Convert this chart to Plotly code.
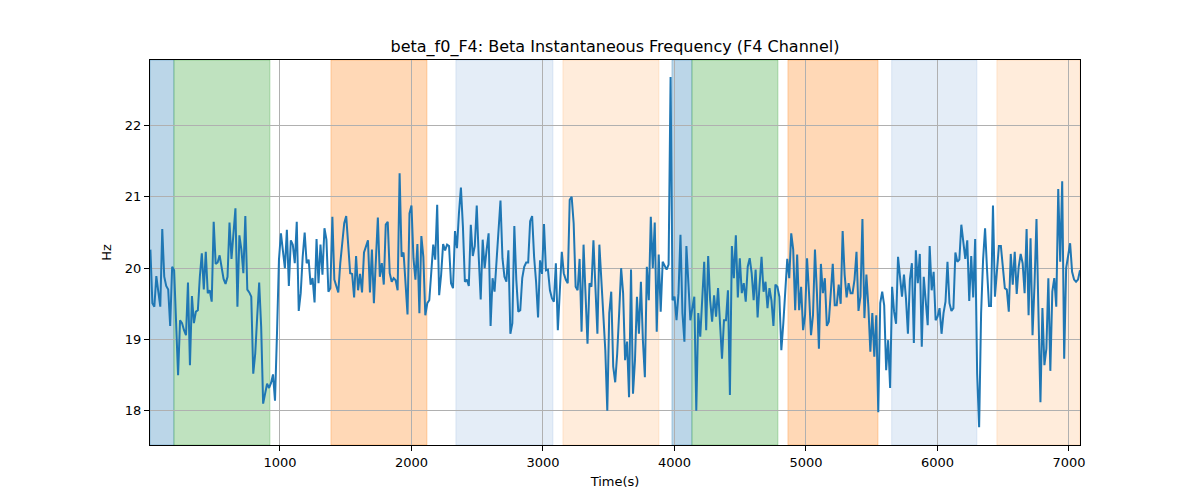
import numpy as np
import plotly.graph_objects as go

# Beta instantaneous frequency (Hz), F4 channel
freq_part1 = [20.26, 19.51, 19.46, 19.89, 19.67, 19.46, 20.55, 19.88, 19.75, 19.70,
              19.19, 20.02, 19.97, 19.27, 18.50, 19.27, 19.23, 19.13, 19.06, 19.80,
              18.64, 19.61, 19.23, 19.39, 19.41, 19.88, 20.21, 19.70, 20.23, 19.65,
              19.69, 19.53, 20.65, 20.06, 20.08, 20.18, 19.98, 19.85, 19.78, 19.88,
              20.64, 20.13, 20.49, 20.84, 19.46, 20.46, 20.26, 19.93, 20.73, 19.70,
              19.66, 19.60, 18.52, 18.80, 19.32, 19.80, 19.18, 18.10, 18.24, 18.38,
              18.32, 18.39, 18.51, 18.14, 19.08, 20.12, 20.49, 20.23, 20.00]
freq_part2 = [20.54, 19.75, 20.39, 20.33, 20.07, 20.65, 19.40, 19.65, 20.16, 20.50,
              20.07, 20.12, 19.77, 19.86, 19.52, 20.41, 19.79, 20.33, 19.91, 20.56,
              20.40, 19.67, 19.72, 20.72, 19.84, 19.74, 19.66, 20.07, 20.35, 20.63,
              20.73, 20.31, 19.93, 19.92, 19.59, 20.17, 19.69, 19.92, 19.66, 20.22,
              20.31, 20.39, 19.66, 20.26, 19.51, 20.19, 20.71, 19.88, 20.07, 19.77,
              20.61, 20.65, 19.93, 19.81, 19.86, 19.83, 19.69, 21.33, 20.16, 20.22,
              19.84, 19.35, 20.77, 20.88, 20.14, 19.84, 20.34]
freq_part3 = [19.37, 20.45, 20.16, 19.34, 19.51, 19.55, 19.93, 20.33, 20.12, 20.89,
              19.62, 19.91, 20.34, 20.25, 20.33, 20.31, 19.79, 19.72, 20.52, 20.28,
              20.77, 21.13, 20.59, 19.81, 19.84, 19.75, 20.61, 20.17, 20.31, 20.88,
              20.16, 19.56, 20.40, 20.00, 20.26, 20.49, 19.19, 19.86, 19.67, 20.12,
              20.59, 20.95, 20.14, 19.88, 19.81, 20.25, 19.08, 19.23, 20.59, 19.84,
              19.39, 19.41, 19.86, 20.02, 20.08, 20.08, 20.66, 20.73, 20.16, 19.81,
              19.31, 20.11, 19.92, 20.62, 19.97, 19.98, 19.69]
freq_part4 = [19.58, 19.53, 20.07, 19.13, 19.69, 20.23, 19.93, 19.84, 19.79, 20.96,
              21.00, 20.63, 19.74, 19.69, 20.13, 19.11, 20.33, 19.69, 18.94, 19.79,
              19.74, 20.39, 19.69, 19.08, 20.33, 19.88, 19.27, 18.85, 18.00, 19.37,
              19.67, 18.62, 18.40, 18.80, 19.37, 20.00, 19.65, 18.71, 18.97, 18.19,
              19.98, 18.24, 18.71, 19.60, 19.08, 19.81, 18.99, 18.47, 20.02, 19.55,
              20.72, 20.00, 20.64, 19.11, 20.19, 19.39, 20.09, 20.03, 19.98, 20.05,
              22.68, 19.55, 19.60, 19.27, 19.65, 20.47]
freq_part5 = [19.37, 18.97, 20.31, 19.79, 19.27, 19.44, 19.60, 18.00, 19.37, 19.04,
              19.65, 20.09, 19.13, 20.17, 19.55, 19.25, 19.62, 19.32, 19.72, 19.13,
              18.73, 19.27, 19.27, 19.69, 18.22, 20.31, 19.86, 20.46, 19.59, 20.14,
              19.65, 19.79, 19.53, 20.02, 20.14, 19.93, 19.55, 19.98, 19.31, 19.77,
              20.16, 19.67, 19.81, 19.44, 19.72, 19.55, 19.19, 19.77, 19.74, 19.60,
              18.85, 19.23, 19.65, 20.13, 19.86, 20.49, 20.26, 19.41, 20.19, 19.41,
              19.74, 19.13, 19.34, 20.14, 19.65, 19.06]
freq_part6 = [19.34, 20.26, 19.65, 18.87, 20.06, 19.65, 19.86, 19.19, 19.25, 19.65,
              20.06, 19.48, 19.48, 19.77, 19.50, 20.52, 19.91, 19.59, 19.79, 19.65,
              19.65, 19.84, 20.23, 19.40, 19.60, 20.69, 19.30, 19.91, 19.46, 18.83,
              19.37, 18.76, 19.34, 17.98, 19.51, 19.67, 19.48, 18.57, 18.99, 18.32,
              19.74, 19.39, 19.22, 20.16, 19.88, 19.60, 19.91, 19.58, 19.08, 19.84,
              20.07, 18.95, 20.25, 19.79, 20.20, 18.90, 19.88, 19.51, 19.20, 20.31,
              19.69, 19.95, 19.27, 19.32, 19.44, 19.08]
freq_part7 = [19.37, 19.53, 20.09, 19.51, 19.40, 19.44, 20.22, 20.09, 20.12, 20.61,
              20.40, 20.13, 20.39, 19.54, 20.17, 19.59, 20.41, 18.52, 17.77, 19.37,
              20.12, 20.56, 19.98, 19.47, 19.47, 20.88, 19.60, 20.02, 20.31, 20.31,
              20.02, 19.72, 19.70, 19.39, 20.20, 19.77, 20.23, 19.64, 20.02, 20.20,
              20.07, 19.65, 20.55, 19.34, 20.42, 19.06, 19.77, 20.69, 19.37, 18.12,
              19.44, 18.64, 18.87, 19.86, 18.56, 19.67, 19.86, 19.46, 21.11, 20.09,
              21.22, 18.73, 20.00, 20.16, 20.35, 19.95, 19.84, 19.81, 19.84, 19.97]

freq = (freq_part1 + freq_part2 + freq_part3 + freq_part4 +
        freq_part5 + freq_part6 + freq_part7)

t_start = 15.0
t_end = 7084.0
times = np.linspace(t_start, t_end, len(freq))

# Shaded segments: (start, end, colour)
seg_starts = [12, 194, 1388, 2338, 3152, 3981, 4133, 4863, 5652, 6452]
seg_ends = [194, 924, 2118, 3076, 3882, 4133, 4787, 5548, 6300, 7084]
seg_kinds = ["blue", "green", "orange", "lightblue", "lightorange",
             "blue", "green", "orange", "lightblue", "lightorange"]

kind_colors = {
    "blue": "rgba(31,119,180,0.3)",
    "green": "rgba(44,160,44,0.3)",
    "orange": "rgba(255,127,14,0.3)",
    "lightblue": "rgba(65,125,200,0.14)",
    "lightorange": "rgba(255,127,14,0.15)",
}

fig = go.Figure()

for s, e, k in zip(seg_starts, seg_ends, seg_kinds):
    fig.add_shape(type="rect", xref="x", yref="paper", x0=s, x1=e, y0=0, y1=1,
                  fillcolor=kind_colors[k], line=dict(color=kind_colors[k], width=1),
                  layer="below")

fig.add_trace(go.Scatter(x=times, y=freq, mode="lines",
                         line=dict(color="#1f77b4", width=2), showlegend=False))

font_family = "DejaVu Sans, sans-serif"
fig.update_layout(
    width=1200, height=500,
    margin=dict(l=142, r=128, t=52, b=63),
    paper_bgcolor="white", plot_bgcolor="white",
    font=dict(family=font_family, size=13, color="black"),
    title=dict(text="beta_f0_F4: Beta Instantaneous Frequency (F4 Channel)",
               x=0.5, xref="paper", xanchor="center", y=0.924, yanchor="middle",
               font=dict(size=16, family=font_family, color="black")),
)
fig.update_xaxes(range=[t_start - 3, t_end], tickvals=[1000, 2000, 3000, 4000, 5000, 6000, 7000],
                 showgrid=True, gridcolor="#b0b0b0", gridwidth=1,
                 showline=True, linecolor="black", linewidth=1, mirror=True,
                 ticks="outside", ticklen=5, tickcolor="black", zeroline=False,
                 title=dict(text="Time(s)", font=dict(size=13), standoff=8),
                 tickfont=dict(size=13))
fig.update_yaxes(range=[17.52, 22.92], tickvals=[18, 19, 20, 21, 22],
                 showgrid=True, gridcolor="#b0b0b0", gridwidth=1,
                 showline=True, linecolor="black", linewidth=1, mirror=True,
                 ticks="outside", ticklen=5, tickcolor="black", zeroline=False,
                 title=dict(text="Hz", font=dict(size=13), standoff=10),
                 tickfont=dict(size=13))

fig.write_html("out.html")
